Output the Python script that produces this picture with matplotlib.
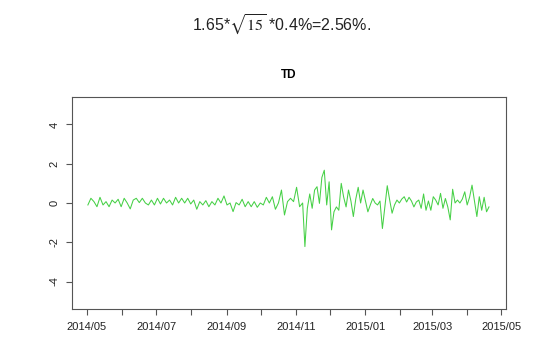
import matplotlib
matplotlib.use('Agg')
import matplotlib.pyplot as plt
import matplotlib.dates as mdates
import pandas as pd

plt.rcParams['font.family'] = ['Liberation Sans', 'DejaVu Sans']
plt.rcParams['mathtext.fontset'] = 'stix'

# daily series (calm part up to early Nov 2014)
calm_start, calm_end = '2014-05-02', '2014-11-07'
calm_values = [-0.10, 0.24, 0.07, -0.19, 0.29, -0.10, 0.07, -0.19, 0.15, 0.00,
               0.19, -0.19, 0.24, 0.00, -0.30, 0.15, 0.24, 0.02, 0.24, 0.00,
               -0.10, 0.15, -0.10, 0.24, -0.05, 0.24, 0.00, 0.15, -0.10, 0.29,
               0.00, 0.24, 0.00, 0.24, -0.05, 0.15, -0.32, 0.07, -0.10, 0.12,
               -0.19, 0.07, -0.10, 0.24, 0.00, 0.36, -0.10, 0.00, -0.44, 0.02,
               -0.10, 0.19, -0.19, 0.07, -0.19, 0.07, -0.22, 0.00, -0.10, 0.29,
               0.00, 0.32, -0.32, 0.00, 0.66, -0.61, 0.07, 0.24, 0.07, 0.80,
               -0.19, 0.00]

# volatile part, Nov 2014 - Apr 2015
vol_start, vol_end = '2014-11-09', '2015-04-20'
vol_values = [-2.22, -0.27, 0.46, -0.27, 0.66, 0.83, -0.02, 1.30, 1.67, -0.10,
              1.08, -1.37, -0.45, -0.20, -0.37, 1.00, 0.30, -0.20, 0.66, 0.10,
              -0.69, 0.20, 0.80, 0.00, 0.66, 0.10, -0.45, -0.10, 0.23, 0.00,
              -0.10, 0.10, -1.30, -0.20, 0.88, 0.15, -0.52, -0.10, 0.15, 0.00,
              0.20, 0.32, 0.05, 0.29, 0.10, -0.20, 0.05, 0.15, -0.27, 0.46,
              -0.37, 0.10, -0.37, 0.32, 0.15, -0.10, 0.49, -0.27, 0.23, -0.20,
              -0.86, 0.70, 0.00, 0.15, 0.00, 0.20, 0.57, -0.10, 0.30, 0.91,
              0.10, -0.69, 0.32, -0.37, 0.29, -0.45, -0.20]

y_ticks = [-4, -2, 0, 2, 4]
x_left, x_right = '2014-04-18', '2015-05-05'

dates = list(pd.date_range(calm_start, calm_end, periods=len(calm_values))) + \
    list(pd.date_range(vol_start, vol_end, periods=len(vol_values)))
values = calm_values + vol_values

fig = plt.figure(figsize=(5.52, 3.39), dpi=100)
ax = fig.add_axes([0.1304, 0.0885, 0.7863, 0.6254])

ax.plot(dates, values, color='#46d046', linewidth=0.75)

ax.set_xlim(pd.Timestamp(x_left), pd.Timestamp(x_right))
ax.set_ylim(-5.4, 5.4)
ax.set_yticks(y_ticks)
ax.set_yticklabels([str(t) for t in y_ticks], rotation=90, va='center')

ax.xaxis.set_major_locator(mdates.MonthLocator(bymonth=[1, 3, 5, 7, 9, 11]))
ax.xaxis.set_minor_locator(mdates.MonthLocator())
ax.xaxis.set_major_formatter(mdates.DateFormatter('%Y/%m'))

for side in ax.spines.values():
    side.set_color('#555555')
    side.set_linewidth(0.8)
ax.tick_params(which='both', direction='out', length=4.5, width=0.8,
               color='#555555', labelsize=8, labelcolor='#222222')
ax.tick_params(axis='x', pad=5)
ax.tick_params(axis='y', pad=4.5)

ax.set_title('TD', fontweight='bold', fontsize=8.5, pad=14)

fig.text(0.51, 0.909, r'1.65*$\sqrt{15}$ *0.4%=2.56%.', ha='center',
         va='baseline', fontsize=11.5, color='#222222')

plt.savefig('out.png', dpi=100, facecolor='white')
plt.close()
